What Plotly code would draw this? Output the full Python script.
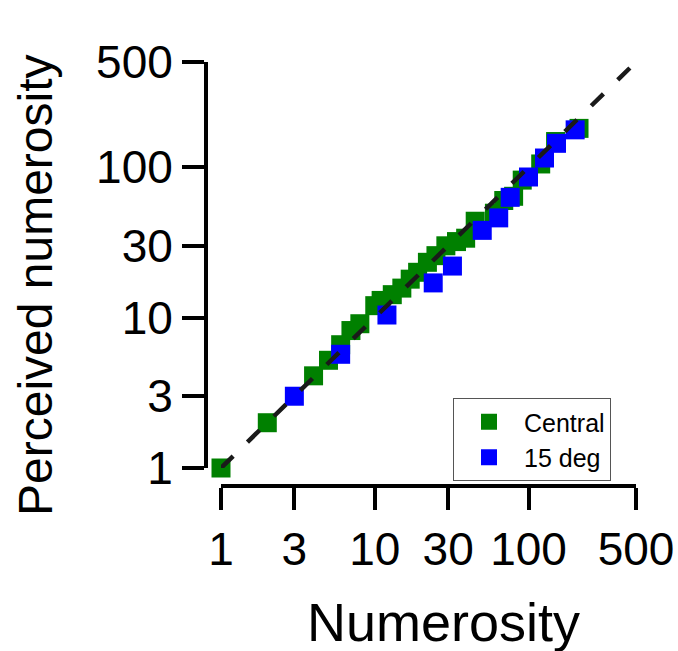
import plotly.graph_objects as go

# Data (log-log)
central_x = [1, 2, 4, 5, 6, 7, 8, 10, 11, 13, 15, 17, 19, 22, 25, 29, 34, 39, 45, 60, 69, 80, 91, 120, 150, 213]
central_y = [1, 2, 4.1, 5.2, 6.6, 8.2, 9.1, 12, 13, 14.2, 15.7, 18, 20, 23.3, 25.8, 30, 32, 33.7, 43.7, 49.4, 60, 64, 82, 105, 148, 181]

deg15_x = [3, 6, 12, 24, 32, 50, 64, 76, 100, 127, 152, 201]
deg15_y = [3, 5.7, 10.4, 17, 22, 38, 46, 63, 86, 115, 144, 177]

identity = [1, 500]
tick_vals = [1, 3, 10, 30, 100, 500]
tick_text = ["1", "3", "10", "30", "100", "500"]
x_title = "Numerosity"
y_title = "Perceived numerosity"

W, H = 678, 651
FONT = "Liberation Sans, Arial, sans-serif"

fig = go.Figure()
fig.add_trace(go.Scatter(
    x=central_x, y=central_y, mode="markers", name="Central",
    marker=dict(symbol="square", size=19, color="#008000", line=dict(width=0)),
    cliponaxis=False))
fig.add_trace(go.Scatter(
    x=deg15_x, y=deg15_y, mode="markers", name="15 deg",
    marker=dict(symbol="square", size=19, color="#0000ff", line=dict(width=0)),
    cliponaxis=False))
fig.add_trace(go.Scatter(
    x=identity, y=identity, mode="lines", showlegend=False,
    line=dict(color="#1a1a1a", width=4.5, dash="17px,20px"),
    cliponaxis=False, hoverinfo="skip"))

axis_common = dict(
    type="log", tickvals=tick_vals, ticktext=tick_text,
    showgrid=False, zeroline=False, showline=True, linecolor="black", linewidth=4,
    ticks="outside", ticklen=22, tickwidth=4, tickcolor="black",
    tickfont=dict(family=FONT, size=46, color="black"),
    range=[0, 2.69897], automargin=False,
)

fig.update_layout(
    width=W, height=H,
    margin=dict(l=0, r=0, t=0, b=0),
    paper_bgcolor="white", plot_bgcolor="white",
    xaxis=dict(**axis_common,
               domain=[221 / W, 636 / W],
               anchor="free", position=(H - 486) / H),
    yaxis=dict(**axis_common,
               domain=[(H - 468) / H, (H - 62) / H],
               anchor="free", position=206 / W),
    legend=dict(x=453 / W, y=(H - 398) / H, xanchor="left", yanchor="top",
                bordercolor="#555555", borderwidth=1, bgcolor="white",
                font=dict(family=FONT, size=25, color="black"),
                itemwidth=60, tracegroupgap=0, entrywidth=100, entrywidthmode="pixels"),
    showlegend=True,
    annotations=[
        dict(text=x_title, xref="paper", yref="paper", x=443 / W, y=(H - 622) / H,
             xanchor="center", yanchor="middle", showarrow=False,
             font=dict(family=FONT, size=54, color="black")),
        dict(text=y_title, xref="paper", yref="paper", x=35 / W, y=(H - 285) / H,
             xanchor="center", yanchor="middle", showarrow=False, textangle=-90,
             font=dict(family=FONT, size=48, color="black")),
    ],
)

fig.write_html("out.html")
